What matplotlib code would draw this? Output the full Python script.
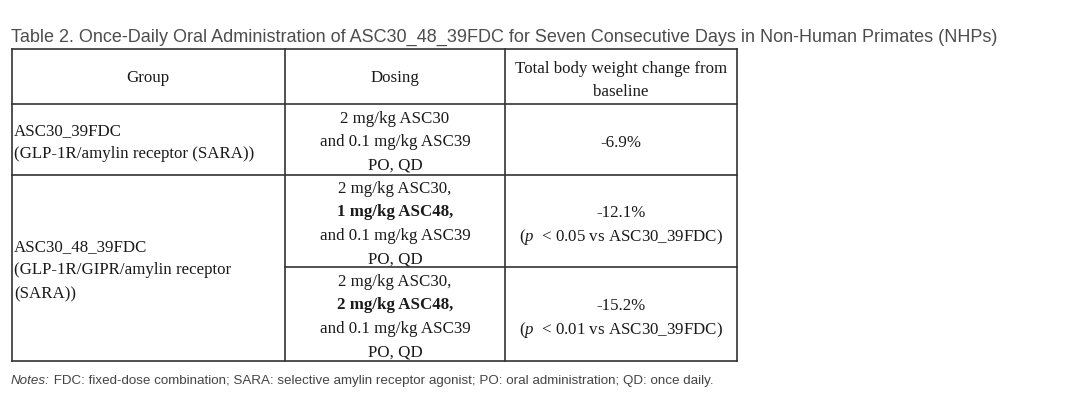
import matplotlib
matplotlib.use("Agg")
import matplotlib.pyplot as plt

# table content
title = ("Table 2. Once-Daily Oral Administration of ASC30_48_39FDC for Seven "
         "Consecutive Days in Non-Human Primates (NHPs)")
headers = ["Group", "Dosing", ["Total body weight change from", "baseline"]]

group_labels = [
    ["ASC30_39FDC", "(GLP-1R/amylin receptor (SARA))"],
    ["ASC30_48_39FDC", "(GLP-1R/GIPR/amylin receptor", "(SARA))"],
]
# dosing lines per row: (text, bold?)
dosing = [
    [("2 mg/kg ASC30", False), ("and 0.1 mg/kg ASC39", False), ("PO, QD", False)],
    [("2 mg/kg ASC30,", False), ("1 mg/kg ASC48,", True),
     ("and 0.1 mg/kg ASC39", False), ("PO, QD", False)],
    [("2 mg/kg ASC30,", False), ("2 mg/kg ASC48,", True),
     ("and 0.1 mg/kg ASC39", False), ("PO, QD", False)],
]
weight_change = ["-6.9%", "-12.1%", "-15.2%"]
p_values = [None, "0.05", "0.01"]
comparator = "ASC30_39FDC"
notes_lead = "Notes:"
notes_body = (" FDC: fixed-dose combination; SARA: selective amylin receptor "
              "agonist; PO: oral administration; QD: once daily.")

plt.rcParams["mathtext.fontset"] = "custom"
plt.rcParams["mathtext.rm"] = "Liberation Serif"
plt.rcParams["mathtext.it"] = "Liberation Serif:italic"

W, H = 1080, 406
fig = plt.figure(figsize=(W / 100, H / 100), dpi=100)
ax = fig.add_axes([0, 0, 1, 1])
ax.set_xlim(0, W)
ax.set_ylim(H, 0)
ax.axis("off")

serif = "Liberation Serif"
sans = "Liberation Sans"
fs = 12.2
txt_c = "#1a1a1a"
line_c = "#333333"
lw = 1.2
lh = 23.5
dy = 2  # text sits a little low in its cells

# grid geometry
xs = [12, 285, 505, 737]
ys = [50, 105, 176, 268, 362]

for y in [ys[0], ys[1], ys[2], ys[4]]:
    ax.plot([xs[0], xs[3]], [y, y], color=line_c, lw=lw, solid_capstyle="projecting")
ax.plot([xs[1], xs[3]], [ys[3], ys[3]], color=line_c, lw=lw)
for x in xs:
    ax.plot([x, x], [ys[0], ys[4]], color=line_c, lw=lw, solid_capstyle="projecting")

ax.text(11, 37, title, fontsize=12.95, family=sans, color="#4d4d4d",
        va="center", ha="left")


def block(lines, xc, yc, ha="center", **kw):
    n = len(lines)
    for i, item in enumerate(lines):
        if isinstance(item, tuple):
            s, b = item
        else:
            s, b = item, False
        y = yc + dy + (i - (n - 1) / 2) * lh
        ax.text(xc, y, s, fontsize=fs, family=serif, color=txt_c,
                ha=ha, va="center", fontweight="bold" if b else "normal", **kw)


cx = [(xs[i] + xs[i + 1]) / 2 for i in range(3)]
hy = (ys[0] + ys[1]) / 2
block([headers[0]], cx[0] - 1, hy - 1)
block([headers[1]], cx[1], hy - 1)
block(headers[2], cx[2], hy + 1)

# group column
block(group_labels[0], xs[0] + 2, (ys[1] + ys[2]) / 2, ha="left")
block(group_labels[1], xs[0] + 2, 268.5, ha="left")

row_y = [(ys[1] + ys[2]) / 2, (ys[2] + ys[3]) / 2, (ys[3] + ys[4]) / 2]
for i in range(3):
    block(dosing[i], cx[1], row_y[i])
    lines = [weight_change[i]]
    if p_values[i] is not None:
        lines.append(r"($\it{p}$  < %s vs %s)" % (p_values[i], comparator))
    block(lines, cx[2], row_y[i] + 1)

t1 = ax.text(11, 381, notes_lead, fontsize=9.65, family=sans, style="italic",
             color="#444444", va="center", ha="left")
fig.canvas.draw()
bb = t1.get_window_extent()
x_end = ax.transData.inverted().transform((bb.x1, bb.y0))[0]
ax.text(x_end, 381, notes_body, fontsize=9.65, family=sans,
        color="#444444", va="center", ha="left")

fig.savefig("out.png", dpi=100)
